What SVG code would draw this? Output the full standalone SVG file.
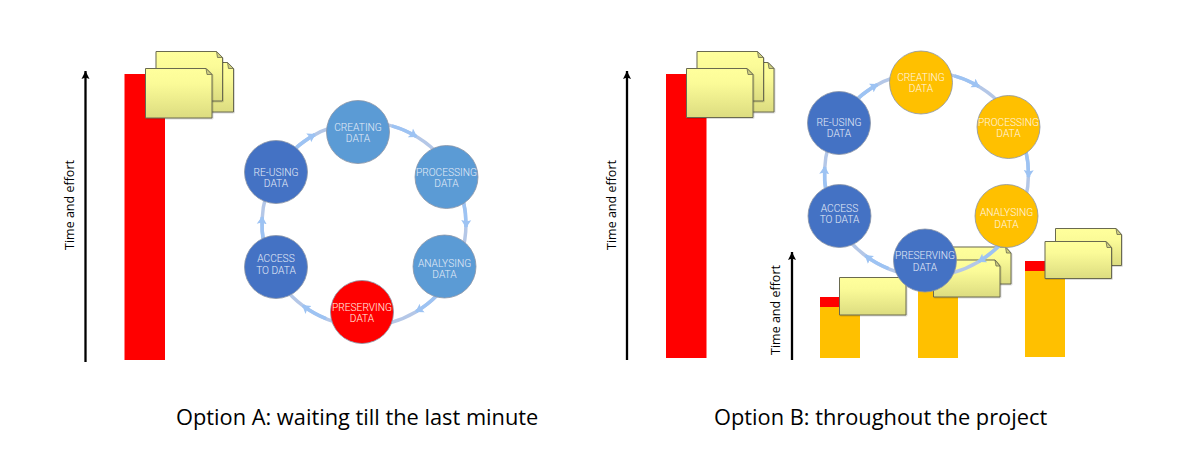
<svg xmlns="http://www.w3.org/2000/svg" width="1180" height="457" viewBox="0 0 1180 457">
<style>
.bg{fill:#fff}
.red{fill:#f00}
.amber{fill:#ffc000}
.axis{stroke:#000;stroke-width:2.3;fill:none;marker-end:url(#axisHead)}
.axlabel{font-family:"Open Sans","Liberation Sans",sans-serif;font-size:12.5px;fill:#000;text-anchor:middle}
.caption{font-family:"Open Sans","Liberation Sans",sans-serif;font-size:21.8px;fill:#000}
.paper{fill:url(#paperGrad);stroke:#6b6b50;stroke-width:1;filter:url(#soft)}
.fold{fill:#cfcf80;stroke:#6b6b50;stroke-width:.8}
.ring{fill:none;stroke:#b4c7e7;stroke-width:3.5}
.flow{fill:none;stroke:#9dc3f3;stroke-width:3.5;marker-end:url(#flowHead)}
.node{stroke:#8a94a6;stroke-width:.8}
.mid{fill:#5b9bd5}
.dark{fill:#4472c4}
.gold{fill:#ffc000}
.hot{fill:#f00}
.ntext{font-family:Roboto,"Liberation Sans",sans-serif;font-size:10.2px;font-weight:300;text-anchor:middle;fill:#e4ecf8}
.wtext{fill:#fff6e6}
</style>
<defs>
<linearGradient id="paperGrad" x1="0" y1="0" x2="0" y2="1"><stop offset="0" stop-color="#ffff9c"/><stop offset=".3" stop-color="#fbfb98"/><stop offset="1" stop-color="#dcdc80"/></linearGradient>
<filter id="soft" x="-5%" y="-5%" width="115%" height="115%"><feDropShadow dx=".7" dy=".7" stdDeviation=".4" flood-color="#000" flood-opacity=".2"/></filter>
<marker id="axisHead" markerUnits="userSpaceOnUse" markerWidth="9" markerHeight="9" refX="8" refY="4.5" orient="auto"><path d="M0 .5L8 4.500L0 8.500L1.500 4.500Z" fill="#000"/></marker>
<marker id="flowHead" markerUnits="userSpaceOnUse" markerWidth="11" markerHeight="11" refX="7" refY="5.5" orient="auto"><path d="M0 .5L8 5.500L0 10.500L1.500 5.500Z" fill="#9dc3f3"/></marker>
</defs>
<rect class="bg" width="1180" height="457"/>

<g id="panel-a-effort">
<path class="axis" d="M85.500 362V71"/>
<text class="axlabel" transform="translate(74 205) rotate(-90)">Time and effort</text>
<rect class="red" x="124.500" y="74" width="40.500" height="286"/>
</g>
<g id="panel-a-docs">
<path class="paper" d="M167 62.500H227.500L233.500 68.500V112H167Z"/><path class="fold" d="M227.500 62.500L233.500 68.500H228.500Z"/>
<path class="paper" d="M156 51.500H216.500L222.500 57.500V101H156Z"/><path class="fold" d="M216.500 51.500L222.500 57.500H217.500Z"/>
<path class="paper" d="M145.500 68.500H206L212 74.500V118H145.500Z"/><path class="fold" d="M206 68.500L212 74.500H207Z"/>
</g>

<g id="connectors-a" transform="translate(364 224)">
<path class="ring" d="M-6.600 -101.800A102 102 0 0 1 88.600 -50.500"/>
<path class="ring" d="M88.600 -50.500A102 102 0 0 1 90.200 47.600"/>
<path class="ring" d="M90.200 47.600A102 102 0 0 1 -2.300 102"/>
<path class="ring" d="M-2.300 102A102 102 0 0 1 -91.700 44.800"/>
<path class="ring" d="M-91.700 44.800A102 102 0 0 1 -87.800 -51.900"/>
<path class="ring" d="M-87.800 -51.900A102 102 0 0 1 -6.600 -101.800"/>
<path class="flow" d="M-70.600 -73.600A102 102 0 0 1 -49.200 -89.400"/>
<path class="flow" d="M27.900 -98.100A102 102 0 0 1 52.400 -87.500"/>
<path class="flow" d="M99.300 -23.500A102 102 0 0 1 102 3"/>
<path class="flow" d="M73.100 71.100A102 102 0 0 1 52.200 87.600"/>
<path class="flow" d="M-37.900 94.700A102 102 0 0 1 -61.100 81.700"/>
<path class="flow" d="M-100.100 19.600A102 102 0 0 1 -101.800 -6.900"/>
</g>

<g id="a-creating"><circle class="node mid" cx="358" cy="132" r="31.500"/><text class="ntext" x="358" y="130.700">CREATING</text><text class="ntext" x="358" y="141.900">DATA</text></g>
<g id="a-processing"><circle class="node mid" cx="446.500" cy="177" r="31.500"/><text class="ntext" x="446.500" y="176">PROCESSING</text><text class="ntext" x="446.500" y="187.200">DATA</text></g>
<g id="a-analysing"><circle class="node mid" cx="444.500" cy="266.500" r="31.500"/><text class="ntext" x="444.500" y="266.700">ANALYSING</text><text class="ntext" x="444.500" y="278">DATA</text></g>
<g id="a-preserving"><circle class="node hot" cx="362" cy="312" r="31.500"/><text class="ntext wtext" x="362" y="310.700">PRESERVING</text><text class="ntext wtext" x="362" y="322">DATA</text></g>
<g id="a-access"><circle class="node dark" cx="276" cy="267" r="31.500"/><text class="ntext" x="276" y="262.300">ACCESS</text><text class="ntext" x="276" y="273.500">TO DATA</text></g>
<g id="a-reusing"><circle class="node dark" cx="276" cy="172" r="31.500"/><text class="ntext" x="276" y="176">RE-USING</text><text class="ntext" x="276" y="187.200">DATA</text></g>

<g id="panel-b-effort">
<path class="axis" d="M627 360V71"/>
<text class="axlabel" transform="translate(616 205) rotate(-90)">Time and effort</text>
<rect class="red" x="666" y="74" width="40.500" height="284"/>
</g>
<g id="panel-b-docs">
<path class="paper" d="M708 62.500H768L774 68.500V112H708Z"/><path class="fold" d="M768 62.500L774 68.500H769Z"/>
<path class="paper" d="M697 51.500H757.500L763.500 57.500V101H697Z"/><path class="fold" d="M757.500 51.500L763.500 57.500H758.500Z"/>
<path class="paper" d="M686.500 68.500H747L753 74.500V117.500H686.500Z"/><path class="fold" d="M747 68.500L753 74.500H748Z"/>
</g>

<g id="small-chart">
<path class="axis" d="M792 360V252"/>
<text class="axlabel" transform="translate(780 310) rotate(-90)">Time and effort</text>
<rect class="amber" x="820" y="307" width="40" height="51"/>
<rect class="red" x="820" y="297" width="40" height="10"/>
<rect class="amber" x="918" y="285" width="40" height="73"/>
<rect class="amber" x="1025" y="271" width="40" height="86"/>
<rect class="red" x="1025" y="261" width="40" height="10"/>
<path class="paper" d="M839.500 277.500H906V315H839.500Z"/>
<path class="paper" d="M945 247H1005.500L1011 253V284H945Z"/><path class="fold" d="M1005.500 247L1011 253H1006.500Z"/>
<path class="paper" d="M933.500 260H995L1000 266V297H933.500Z"/><path class="fold" d="M995 260L1000 266H996Z"/>
<path class="paper" d="M1055.500 228.500H1116L1121.500 234.500V265.500H1055.500Z"/><path class="fold" d="M1116 228.500L1121.500 234.500H1117Z"/>
<path class="paper" d="M1045 241.500H1106L1111.500 247.500V278.500H1045Z"/><path class="fold" d="M1106 241.500L1111.500 247.500H1107Z"/>
</g>

<g id="connectors-b" transform="translate(926.500 174)">
<path class="ring" d="M-6.600 -101.800A102 102 0 0 1 88.600 -50.500"/>
<path class="ring" d="M88.600 -50.500A102 102 0 0 1 90.200 47.600"/>
<path class="ring" d="M90.200 47.600A102 102 0 0 1 -2.300 102"/>
<path class="ring" d="M-2.300 102A102 102 0 0 1 -91.700 44.800"/>
<path class="ring" d="M-91.700 44.800A102 102 0 0 1 -87.800 -51.900"/>
<path class="ring" d="M-87.800 -51.900A102 102 0 0 1 -6.600 -101.800"/>
<path class="flow" d="M-70.600 -73.600A102 102 0 0 1 -49.200 -89.400"/>
<path class="flow" d="M27.900 -98.100A102 102 0 0 1 52.400 -87.500"/>
<path class="flow" d="M99.300 -23.500A102 102 0 0 1 102 3"/>
<path class="flow" d="M73.100 71.100A102 102 0 0 1 52.200 87.600"/>
<path class="flow" d="M-37.900 94.700A102 102 0 0 1 -61.100 81.700"/>
<path class="flow" d="M-100.100 19.600A102 102 0 0 1 -101.800 -6.900"/>
</g>

<g id="b-creating"><circle class="node gold" cx="921" cy="82.500" r="31.500"/><text class="ntext wtext" x="921" y="80.700">CREATING</text><text class="ntext wtext" x="921" y="91.900">DATA</text></g>
<g id="b-processing"><circle class="node gold" cx="1008.500" cy="127" r="31.500"/><text class="ntext wtext" x="1008.500" y="126">PROCESSING</text><text class="ntext wtext" x="1008.500" y="137.200">DATA</text></g>
<g id="b-analysing"><circle class="node gold" cx="1006.500" cy="216" r="31.500"/><text class="ntext wtext" x="1006.500" y="215.900">ANALYSING</text><text class="ntext wtext" x="1006.500" y="227.500">DATA</text></g>
<g id="b-preserving"><circle class="node dark" cx="925" cy="260.500" r="31.500"/><text class="ntext" x="925" y="259.300">PRESERVING</text><text class="ntext" x="925" y="270.700">DATA</text></g>
<g id="b-access"><circle class="node dark" cx="839.500" cy="216" r="31.500"/><text class="ntext" x="839.500" y="211.700">ACCESS</text><text class="ntext" x="839.500" y="223">TO DATA</text></g>
<g id="b-reusing"><circle class="node dark" cx="839" cy="123" r="31.500"/><text class="ntext" x="839" y="126">RE-USING</text><text class="ntext" x="839" y="137.200">DATA</text></g>

<text class="caption" x="176" y="425">Option A: waiting till the last minute</text>
<text class="caption" x="714" y="425">Option B: throughout the project</text>
</svg>
